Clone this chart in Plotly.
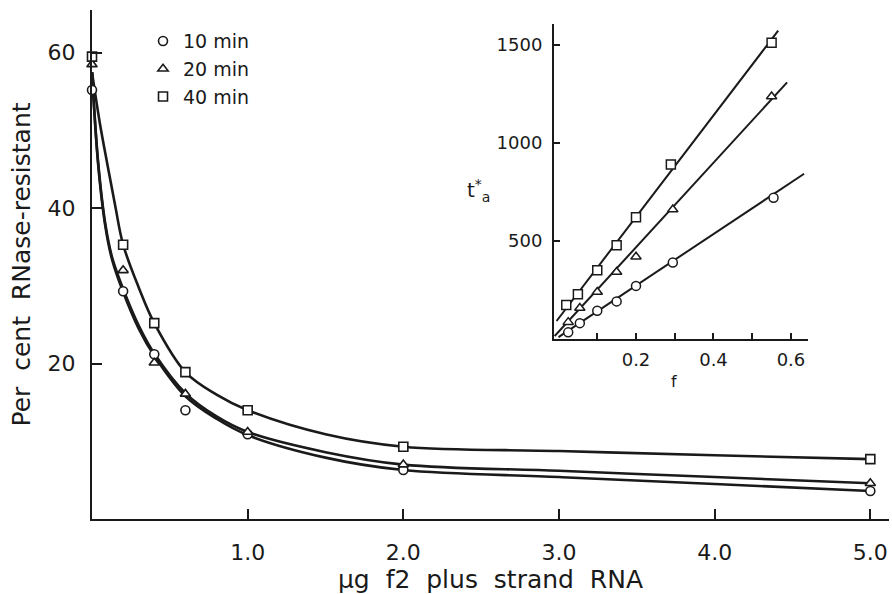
import plotly.graph_objects as go

# ---------------- main panel data ----------------
dose = [0, 0.2, 0.4, 0.6, 1.0, 2.0, 5.0]
pct_10 = [55.2, 29.3, 21.2, 14.0, 10.9, 6.3, 3.6]
pct_20 = [58.5, 32.0, 20.1, 16.1, 11.2, 7.0, 4.6]
pct_40 = [59.5, 35.3, 25.2, 18.9, 14.0, 9.3, 7.7]

# fitted curves as drawn in the figure
curve_x_10 = [0, 0.04, 0.087, 0.13, 0.2, 0.3, 0.4, 0.6, 0.8, 1.0, 1.5, 2.0, 3.0, 4.0, 5.0]
curve_10 = [57.5, 45.5, 37.5, 33.3, 29.2, 24.5, 21.0, 15.8, 12.9, 10.8, 7.9, 6.3, 5.4, 4.5, 3.6]
curve_x_20 = [0, 0.04, 0.087, 0.13, 0.2, 0.3, 0.4, 0.6, 0.8, 1.0, 1.5, 2.0, 3.0, 4.0, 5.0]
curve_20 = [57.5, 45.8, 37.8, 33.6, 29.6, 24.9, 21.3, 16.2, 13.2, 11.2, 8.6, 7.0, 6.2, 5.4, 4.6]
curve_x_40 = [0, 0.05, 0.1, 0.15, 0.2, 0.3, 0.4, 0.6, 0.8, 1.0, 1.5, 2.0, 3.0, 4.0, 5.0]
curve_40 = [57.5, 51.0, 45.5, 40.2, 35.3, 29.8, 25.2, 18.9, 16.0, 14.0, 10.9, 9.3, 8.75, 8.2, 7.7]

main_xticks = [1, 2, 3, 4, 5]
main_xticktext = ["1.0", "2.0", "3.0", "4.0", "5.0"]
main_yticks = [20, 40, 60]

# ---------------- inset data ----------------
f_10 = [0.025, 0.055, 0.10, 0.15, 0.20, 0.295, 0.555]
ta_10 = [34, 81, 144, 192, 271, 390, 721]
f_20 = [0.025, 0.055, 0.10, 0.15, 0.20, 0.295, 0.55]
ta_20 = [86, 158, 240, 342, 420, 661, 1237]
f_40 = [0.02, 0.05, 0.10, 0.15, 0.20, 0.29, 0.55]
ta_40 = [173, 229, 351, 478, 621, 890, 1511]

fit_f_10 = [0.0, 0.634]
fit_ta_10 = [10, 843]
fit_f_20 = [-0.01, 0.59]
fit_ta_20 = [15, 1309]
fit_f_40 = [-0.005, 0.567]
fit_ta_40 = [92, 1573]

inset_xticks = [0.2, 0.4, 0.6]
inset_xticktext = ["0.2", "0.4", "0.6"]
inset_xminor = [0.1, 0.3, 0.5]
inset_yticks = [500, 1000, 1500]

labels = ["10 min", "20 min", "40 min"]
symbols = ["circle", "triangle-up", "square"]

FONT = "'DejaVu Sans', Lato, sans-serif"
BLACK = "#1a1a1a"

fig = go.Figure()

# main curves
for cx, cy in [(curve_x_10, curve_10), (curve_x_20, curve_20), (curve_x_40, curve_40)]:
    fig.add_trace(go.Scatter(x=cx, y=cy, mode="lines",
                             line=dict(color=BLACK, width=2.6, shape="spline", smoothing=1.0),
                             showlegend=False, hoverinfo="skip", cliponaxis=False))

# main markers
for ys, lab, sym in zip([pct_10, pct_20, pct_40], labels, symbols):
    fig.add_trace(go.Scatter(x=dose, y=ys, mode="markers", name=lab,
                             marker=dict(symbol=sym, size=9, color="white",
                                         line=dict(color=BLACK, width=1.6)),
                             cliponaxis=False))

# inset lines
for fx, fy in [(fit_f_10, fit_ta_10), (fit_f_20, fit_ta_20), (fit_f_40, fit_ta_40)]:
    fig.add_trace(go.Scatter(x=fx, y=fy, mode="lines", xaxis="x2", yaxis="y2",
                             line=dict(color=BLACK, width=2),
                             showlegend=False, hoverinfo="skip", cliponaxis=False))

# inset markers
for fx, fy, sym in zip([f_10, f_20, f_40], [ta_10, ta_20, ta_40], symbols):
    fig.add_trace(go.Scatter(x=fx, y=fy, mode="markers", xaxis="x2", yaxis="y2",
                             marker=dict(symbol=sym, size=9, color="white",
                                         line=dict(color=BLACK, width=1.5)),
                             showlegend=False, cliponaxis=False))

axis_common = dict(showgrid=False, zeroline=False, showline=True, linecolor=BLACK,
                   ticks="inside", tickcolor=BLACK, color=BLACK)

fig.update_layout(
    width=892, height=594,
    margin=dict(l=92, r=3, t=10, b=75),
    paper_bgcolor="white", plot_bgcolor="white",
    font=dict(family=FONT, color=BLACK, size=20),
    xaxis=dict(**axis_common, range=[0, 5.12], linewidth=2.2, ticklen=10, tickwidth=2,
               tickvals=main_xticks, ticktext=main_xticktext, tickfont=dict(size=22),
               ticklabelstandoff=12,
               title=dict(text="μg  f2  plus  strand  RNA", font=dict(size=25), standoff=6)),
    yaxis=dict(**axis_common, range=[0, 65.5], linewidth=2.2, ticklen=10, tickwidth=2,
               tickvals=main_yticks, tickfont=dict(size=22), ticklabelstandoff=10,
               title=dict(text="Per  cent  RNase-resistant", font=dict(size=25), standoff=10)),
    xaxis2=dict(**axis_common, domain=[0.5797, 0.8984], anchor="y2", range=[-0.0116, 0.644],
                linewidth=2, ticklen=6, tickwidth=1.5, tickvals=inset_xticks,
                ticktext=inset_xticktext, tickfont=dict(size=18), ticklabelstandoff=3,
                minor=dict(tickvals=inset_xminor, ticks="inside", ticklen=6,
                           tickwidth=1.5, tickcolor=BLACK, showgrid=False)),
    yaxis2=dict(**axis_common, domain=[0.3536, 0.9725], anchor="x2", range=[0, 1607],
                linewidth=2, ticklen=6, tickwidth=1.5, tickvals=inset_yticks,
                tickfont=dict(size=18), ticklabelstandoff=6),
    legend=dict(x=0.064, y=0.976, xanchor="left", yanchor="top",
                font=dict(size=19), bgcolor="rgba(0,0,0,0)", tracegroupgap=0),
    showlegend=True,
    annotations=[
        dict(text="t<sup>*</sup><sub>a</sub>", xref="paper", yref="paper",
             x=(478 - 92) / 797, y=(519 - 190) / 509, showarrow=False,
             font=dict(size=20, family=FONT, color=BLACK)),
        dict(text="f", xref="paper", yref="paper",
             x=(679 - 92) / 797, y=(519 - 393) / 509, showarrow=False,
             font=dict(size=16, family=FONT, color=BLACK)),
    ],
)

fig.write_html("out.html")
